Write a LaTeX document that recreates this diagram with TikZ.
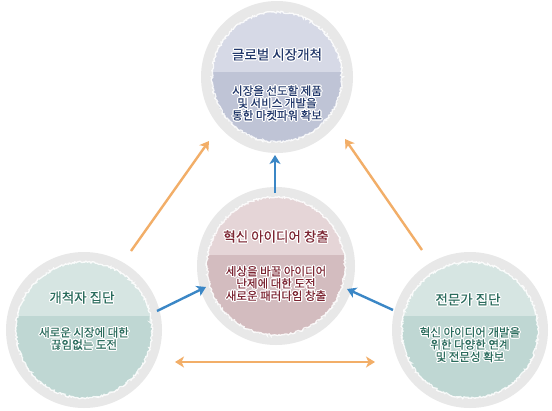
\documentclass[tikz,border=0pt]{standalone}
\usepackage{fontspec}
\newfontfamily\kr[FakeBold=0.3]{Noto Sans CJK KR}
\usepackage{contour}
\contourlength{1.1pt}
\usetikzlibrary{arrows.meta,decorations.pathmorphing}
\definecolor{ring}{HTML}{E8E8E8}
\definecolor{navyA}{HTML}{D6D9E6}
\definecolor{navyB}{HTML}{BFC4D6}
\definecolor{navyT}{HTML}{22386A}
\definecolor{roseA}{HTML}{E5D5D7}
\definecolor{roseB}{HTML}{D3BCBF}
\definecolor{roseT}{HTML}{7B2431}
\definecolor{tealA}{HTML}{D6E5E2}
\definecolor{tealB}{HTML}{BFD7D3}
\definecolor{tealT}{HTML}{2A6B5C}
\definecolor{orangeArr}{HTML}{F2AE68}
\definecolor{blueArr}{HTML}{3B87C6}
\tikzset{
  ringnode/.style={circle, fill=ring, inner sep=0pt, minimum size=#1},
  titletext/.style={font=\kr\fontsize{13.5}{15}\selectfont, inner sep=0pt},
  bodytext/.style={font=\kr\fontsize{11.5}{12.3}\selectfont, align=center, inner sep=0pt},
  orangearrow/.style={draw=orangeArr, line width=2.4pt, -{Stealth[length=9pt,width=11pt,inset=2.5pt]}},
  bluearrow/.style={draw=blueArr, line width=2.4pt, -{Stealth[length=9pt,width=11pt,inset=2.5pt]}},
  speckle/.style={draw=white, opacity=.85, line width=1.3pt, decorate,
    decoration={random steps, segment length=1.3pt, amplitude=1pt}}
}
% \bubblefill{cx}{cy}{r}{divider y}{colA}{colB}
\newcommand\bubblefill[6]{%
  \begin{scope}
    \clip (#1,#2) circle (#3pt);
    \fill[#5] (#1-#3,#2-#3) rectangle (#1+#3,#4);
    \fill[#6] (#1-#3,#4) rectangle (#1+#3,#2+#3);
  \end{scope}
  \draw[speckle] (#1,#2) circle (#3pt);
}
\newcommand\ct[1]{\contour{white}{#1}}
\begin{document}
\begin{tikzpicture}[x=1pt,y=-1pt]
\useasboundingbox (0,0) rectangle (552,410);
\fill[white] (0,0) rectangle (552,410);

% circles
\node[ringnode=152pt] (top) at (277,77) {};
\bubblefill{277}{77}{65}{72}{navyA}{navyB}
\node[ringnode=158pt] (mid) at (276,266) {};
\bubblefill{276}{266}{69}{255}{roseA}{roseB}
\node[ringnode=156pt] (left) at (84,330) {};
\bubblefill{84}{330}{68}{316}{tealA}{tealB}
\node[ringnode=156pt] (right) at (470,330) {};
\bubblefill{470}{330}{68}{316}{tealA}{tealB}

% texts
\node[titletext, text=navyT] (topT) at (277,55) {\ct{글로벌 시장개척}};
\node[bodytext, text=navyT] (topB) at (277,103.5) {\ct{시장을 선도할 제품}\\\ct{및 서비스 개발을}\\\ct{통한 마켓파워 확보}};
\node[titletext, text=roseT] (midT) at (276,237) {\ct{혁신 아이디어 창출}};
\node[bodytext, text=roseT] (midB) at (276,284) {\ct{세상을 바꿀 아이디어}\\\ct{난제에 대한 도전}\\\ct{새로운 패러다임 창출}};
\node[titletext, text=tealT] (leftT) at (82,298) {\ct{개척자 집단}};
\node[bodytext, text=tealT] (leftB) at (84,339) {\ct{새로운 시장에 대한}\\\ct{끊임없는 도전}};
\node[titletext, text=tealT] (rightT) at (468,300) {\ct{전문가 집단}};
\node[bodytext, text=tealT] (rightB) at (470,345) {\ct{혁신 아이디어 개발을}\\\ct{위한 다양한 연계}\\\ct{및 전문성 확보}};

% arrow end points
\coordinate (oL1) at (131,251); \coordinate (oL2) at (209,141);
\coordinate (oR1) at (422,250); \coordinate (oR2) at (345,139);
\coordinate (bV1) at (275,193); \coordinate (bV2) at (275,155);
\coordinate (bL1) at (157,311); \coordinate (bL2) at (206,287);
\coordinate (bR1) at (393,310); \coordinate (bR2) at (347,289);
\coordinate (h1) at (175,362); \coordinate (h2) at (375,362);

\draw[orangearrow] (oL1) -- (oL2);
\draw[orangearrow] (oR1) -- (oR2);
\draw[orangearrow, {Stealth[length=9pt,width=11pt,inset=2.5pt]}-{Stealth[length=9pt,width=11pt,inset=2.5pt]}] (h1) -- (h2);
\draw[bluearrow] (bV1) -- (bV2);
\draw[bluearrow] (bL1) -- (bL2);
\draw[bluearrow] (bR1) -- (bR2);
\end{tikzpicture}
\end{document}
